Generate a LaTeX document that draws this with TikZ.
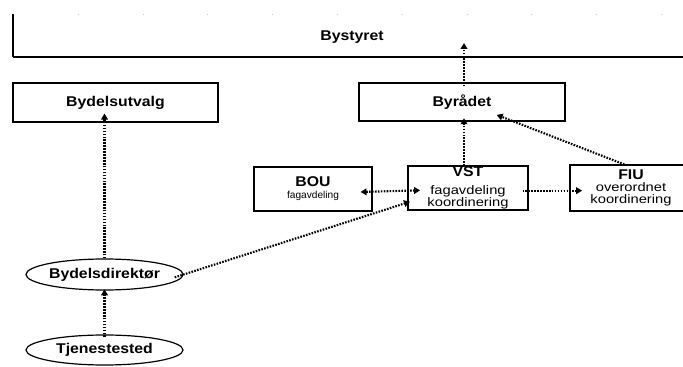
\documentclass[tikz,border=0pt]{standalone}
\usepackage{fontspec}
\setmainfont{Liberation Sans}
\newfontfamily\titlefont[FakeStretch=1.12]{Liberation Sans Bold}
\newfontfamily\subfont[FakeStretch=1.2]{Liberation Sans}
\newfontfamily\boufont{Liberation Sans}
\usetikzlibrary{arrows.meta,shapes.geometric}

\begin{document}
\begin{tikzpicture}[x=0.75pt, y=-0.75pt,
    >={Triangle[length=4.5pt,width=5pt]},
    title/.style={font=\titlefont\fontsize{10.6}{9}\selectfont},
    box/.style={draw, line width=0.8pt, inner sep=0pt, align=center, title},
    oval/.style={ellipse, draw, line width=0.9pt, inner sep=0pt,
      minimum width=117.75pt, title},
    conn/.style={->, line width=1.6pt, dash pattern=on 1.2pt off 1pt}]
  \useasboundingbox (0,0) rectangle (683,367);
  % bystyret (open box at the top)
  \coordinate (bs-nw) at (13,14);
  \coordinate (bs-ne) at (690,14);
  \coordinate (bs-sw) at (13,57);
  \coordinate (bs-se) at (690,57);
  \draw[gray!45, line width=0.4pt, dash pattern=on 0.6pt off 48pt] (bs-nw) -- (bs-ne);
  \draw[line width=0.8pt] (bs-nw) -- (bs-sw);
  \draw[line width=1.1pt] (bs-sw) -- (bs-se);
  \node[title] (bystyret) at (352,37) {Bystyret};
  \coordinate (up) at (464,43);
  % second row
  \node[box, minimum width=153.75pt, minimum height=29.25pt] (utvalg) at (115.5,102.5) {Bydelsutvalg};
  \node[box, minimum width=154.5pt, minimum height=28.5pt] (byradet) at (462,102) {Byrådet};
  % third row
  \node[box, minimum width=88.5pt, minimum height=33pt] (bou) at (313,189)
    {BOU\\{\boufont\fontsize{7.6}{9}\selectfont fagavdeling}};
  \node[box, minimum width=90pt, minimum height=33pt] (vst) at (468,188)
    {VST\\[4.5pt]{\subfont\fontsize{9.2}{9}\selectfont fagavdeling}\\{\subfont\fontsize{9.2}{9}\selectfont koordinering}};
  \node[box, minimum width=91.5pt, minimum height=34.5pt] (fiu) at (631,188)
    {FIU\\{\subfont\fontsize{9.2}{9}\selectfont overordnet}\\{\subfont\fontsize{9.2}{9}\selectfont koordinering}};
  % ovals
  \node[oval, minimum height=23.25pt] (bdir) at (104.5,274.5) {Bydelsdirektør};
  \node[oval, minimum height=22.5pt] (tjen) at (104.5,350) {Tjenestested};
  % connectors
  \draw[conn, shorten <=-3pt] (byradet.north -| up) -- (up);
  \draw[conn, shorten >=-2.5pt] (vst.north -| up) -- (byradet.south -| up);
  \draw[conn] ([xshift=-5pt]fiu.north) -- ([xshift=26pt,yshift=5pt]byradet.south);
  \draw[conn, <->, shorten <=-9pt, shorten >=-9.5pt] ([yshift=-2pt]bou.east) -- ([yshift=-2pt]vst.west);
  \draw[conn, shorten <=-4.5pt, shorten >=-9.5pt] ([yshift=-2pt]vst.east) -- ([yshift=-2pt]fiu.west);
  \draw[conn, shorten <=-7pt, shorten >=-2pt] (bdir.east) -- ([yshift=6pt]vst.south west);
  \draw[conn, shorten >=-6.75pt] (bdir.north) -- (bdir.north |- utvalg.south);
  \draw[conn, shorten <=-2pt, shorten >=-1pt] (tjen.north) -- (bdir.south);
\end{tikzpicture}
\end{document}
